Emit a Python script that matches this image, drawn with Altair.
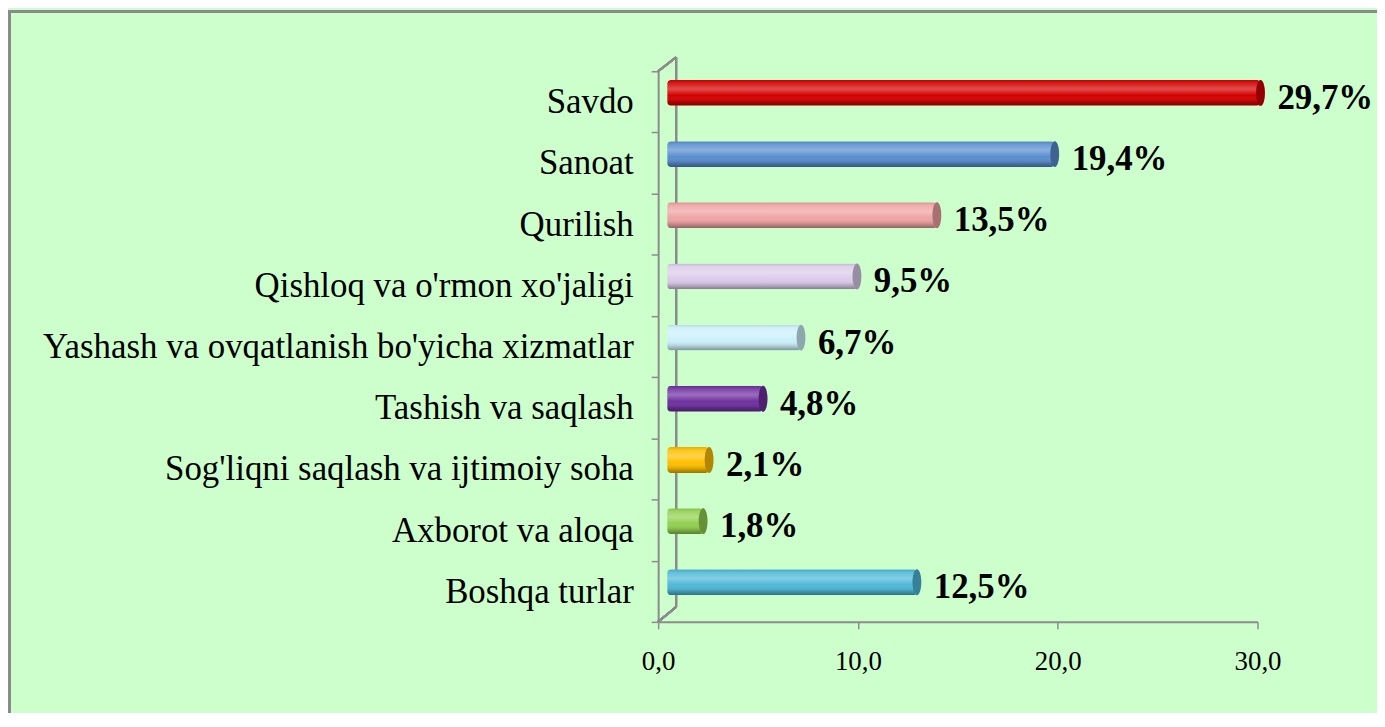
import altair as alt
import pandas as pd

categories = [
    "Savdo",
    "Sanoat",
    "Qurilish",
    "Qishloq va o'rmon xo'jaligi",
    "Yashash va ovqatlanish bo'yicha xizmatlar",
    "Tashish va saqlash",
    "Sog'liqni saqlash va ijtimoiy soha",
    "Axborot va aloqa",
    "Boshqa turlar",
]
values = [29.7, 19.4, 13.5, 9.5, 6.7, 4.8, 2.1, 1.8, 12.5]
colors = ["#D40000", "#5A8ED0", "#EFA3A3", "#DCCBEA", "#CBF0FA",
          "#7030A0", "#FFC000", "#92D050", "#4FB8D8"]
x_ticks = [0, 10, 20, 30]

df = pd.DataFrame({"cat": categories, "value": values})

W, H = 602, 553
FONT = "Liberation Serif"
GRAY = "#8C8C8C"
BAR_H = 26
YOFF = -9
DEPTH = 0.45  # 3D depth shift of the bars, in axis units (~9 px)

y_enc = alt.Y("cat:N", sort=categories, title=None,
              scale=alt.Scale(paddingInner=0, paddingOuter=0),
              axis=alt.Axis(domainColor=GRAY, domainWidth=2, tickColor=GRAY,
                            tickWidth=1.5, tickSize=7, tickBand="extent",
                            labelFont=FONT, labelFontSize=35, labelColor="#000000",
                            labelPadding=18, labelLimit=800))
x_enc = alt.X("value:Q", title=None,
              scale=alt.Scale(domain=[0, 30], nice=False),
              axis=alt.Axis(values=x_ticks, domainColor=GRAY, domainWidth=2,
                            tickColor=GRAY, tickWidth=1.5, tickSize=7, grid=False,
                            labelFlush=False,
                            labelExpr="replace(format(datum.value, '.1f'), '.', ',')",
                            labelFont=FONT, labelFontSize=27, labelColor="#000000",
                            labelPadding=20))
y_plain = alt.Y("cat:N", sort=categories)
x_bar = alt.X("value:Q", scale=alt.Scale(domain=[-DEPTH, 30 - DEPTH], nice=False, zero=False),
              axis=None)

base = alt.Chart(df)
color_enc = alt.Color("cat:N", scale=alt.Scale(domain=categories, range=colors), legend=None)

shade = {
    "gradient": "linear", "x1": 0, "y1": 0, "x2": 0, "y2": 1,
    "stops": [
        {"offset": 0.0, "color": "rgba(0,0,0,0.10)"},
        {"offset": 0.12, "color": "rgba(255,255,255,0.10)"},
        {"offset": 0.35, "color": "rgba(255,255,255,0.30)"},
        {"offset": 0.6, "color": "rgba(255,255,255,0.0)"},
        {"offset": 0.85, "color": "rgba(0,0,0,0.18)"},
        {"offset": 1.0, "color": "rgba(0,0,0,0.40)"},
    ],
}

bars = base.mark_bar(size=BAR_H, cornerRadius=4, yOffset=YOFF).encode(
    x=x_bar, y=y_plain, color=color_enc)
bars_shade = base.mark_bar(size=BAR_H, cornerRadius=4, yOffset=YOFF, color=shade).encode(
    x=x_bar, y=y_plain)

ellipse = "M 0 -1 A 0.34 1 0 1 1 0 1 A 0.34 1 0 1 1 0 -1 Z"
cap = base.mark_point(shape=ellipse, size=BAR_H * BAR_H, filled=True, opacity=1,
                      yOffset=YOFF).encode(x=x_bar, y=y_plain, color=color_enc)
cap_dark = base.mark_point(shape=ellipse, size=BAR_H * BAR_H, filled=True, opacity=0.3,
                           color="black", yOffset=YOFF).encode(x=x_bar, y=y_plain)

bar_layer = alt.layer(bars, bars_shade, cap, cap_dark)

labels = base.transform_calculate(
    lab="replace(format(datum.value, '.1f'), '.', ',') + '%'"
).mark_text(align="left", baseline="middle", dx=26, dy=-4, font=FONT,
            fontSize=35, fontWeight="bold", color="#000000").encode(
    x=x_enc, y=y_enc, text="lab:N")

# 3D wall decoration lines
wall_back = base.mark_rule(color=GRAY, strokeWidth=2).encode(
    x=alt.value(18), x2=alt.value(18), y=alt.value(-14), y2=alt.value(H - 15))
wall_top = base.mark_rule(color=GRAY, strokeWidth=2).encode(
    x=alt.value(0), x2=alt.value(18), y=alt.value(0), y2=alt.value(-14))
wall_bot = base.mark_rule(color=GRAY, strokeWidth=2).encode(
    x=alt.value(0), x2=alt.value(18), y=alt.value(H), y2=alt.value(H - 15))

frame = base.mark_rect(fill=None, stroke="#8A8A8A", strokeWidth=3).encode(
    x=alt.value(-652), x2=alt.value(W + 200), y=alt.value(-60), y2=alt.value(H + 200))

main_layer = alt.layer(frame, wall_back, wall_top, wall_bot, labels)

chart = alt.layer(main_layer, bar_layer).resolve_scale(x="independent").properties(
    width=W, height=H,
    autosize=alt.AutoSizeParams(type="none"),
    padding={"left": 653, "top": 62, "right": 120, "bottom": 90},
    background="#CCFFCC",
).configure_view(stroke=None)

chart.save("out.html", embed_options={"renderer": "svg", "actions": False})
